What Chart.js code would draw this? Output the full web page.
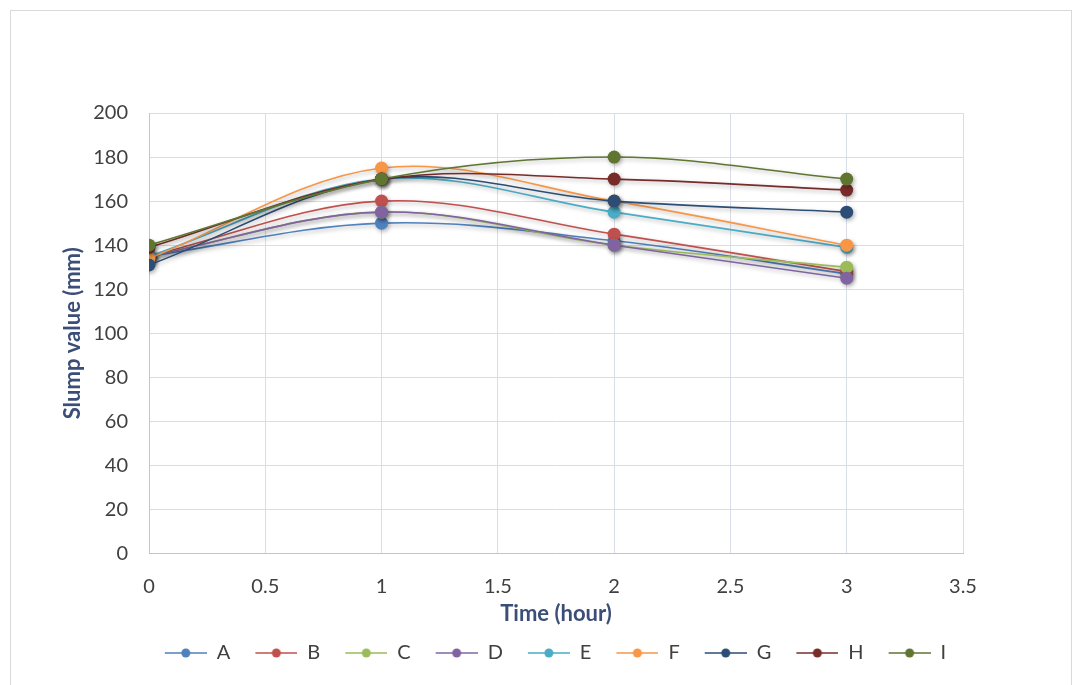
<!DOCTYPE html>
<html>
<head>
<meta charset="utf-8">
<script src="https://cdn.jsdelivr.net/npm/chart.js@4.4.1/dist/chart.umd.min.js"></script>
<style>
  body { margin: 0; background: #fff; }
  #frame { position: absolute; left: 10px; top: 10px; width: 1062px; height: 680px; border: 1px solid #d9d9d9; box-sizing: border-box; }
  #wrap { position: absolute; left: 0; top: 0; width: 1078px; height: 685px; }
</style>
</head>
<body>
<div id="frame"></div>
<div id="wrap"><canvas id="slumpChart"></canvas></div>
<script>
// Time (hour)
const times = [0, 1, 2, 3];
const seriesNames = ['A', 'B', 'C', 'D', 'E', 'F', 'G', 'H', 'I'];

// Slump value (mm) per mix
const slumpA = [135, 150, 142, 127];
const slumpB = [135, 160, 145, 128];
const slumpC = [135, 155, 140, 130];
const slumpD = [135, 155, 140, 125];
const slumpE = [135, 170, 155, 139];
const slumpF = [134, 175, 160, 140];
const slumpG = [131, 170, 160, 155];
const slumpH = [139, 170, 170, 165];
const slumpI = [140, 170, 180, 170];

const colors = ['#4F81BD', '#C0504D', '#9BBB59', '#8064A2', '#4BACC6', '#F79646', '#2C4D75', '#772C2A', '#5F7530'];
const allSeries = [slumpA, slumpB, slumpC, slumpD, slumpE, slumpF, slumpG, slumpH, slumpI];

const tickColor = '#404040';
const titleColor = '#3B4E78';
const gridColor = '#D9DEE6';
const fontFamily = 'Lato';

// legend symbol: blank lead-in, then a short line with a dot in the middle
const legendIcon = (color) => {
  const c = document.createElement('canvas');
  c.width = 57; c.height = 12;
  const g = c.getContext('2d');
  g.strokeStyle = color; g.lineWidth = 1.5;
  g.beginPath(); g.moveTo(15, 6); g.lineTo(57, 6); g.stroke();
  g.fillStyle = color;
  g.beginPath(); g.arc(36, 6, 4.5, 0, Math.PI * 2); g.fill();
  return c;
};

const datasets = seriesNames.map((name, i) => ({
  label: name,
  data: times.map((t, j) => ({ x: t, y: allSeries[i][j] })),
  borderColor: colors[i],
  backgroundColor: colors[i],
  borderWidth: 1.6,
  pointRadius: 6.5,
  pointHoverRadius: 6.5,
  pointBorderWidth: 0,
  tension: 0.35,
  fill: false,
  order: seriesNames.length - i   // later series drawn on top
}));

// soft shadow like the spreadsheet export
const shadowPlugin = {
  id: 'shadow',
  beforeDatasetsDraw(chart) {
    const ctx = chart.ctx;
    ctx.save();
    ctx.shadowColor = 'rgba(0,0,0,0.3)';
    ctx.shadowBlur = 4;
    ctx.shadowOffsetX = 1.5;
    ctx.shadowOffsetY = 2;
  },
  afterDatasetsDraw(chart) {
    chart.ctx.restore();
  }
};

// center the legend under the plot area instead of the whole canvas
const legendCenter = {
  id: 'legendCenter',
  afterLayout(chart) {
    const lg = chart.legend;
    const shift = (chart.chartArea.left + chart.chartArea.right) / 2 - (lg.left + lg.right) / 2 - 8;
    lg.left += shift;
    lg.right += shift;
  }
};

new Chart(document.getElementById('slumpChart'), {
  type: 'line',
  data: { datasets },
  plugins: [shadowPlugin, legendCenter],
  options: {
    responsive: true,
    maintainAspectRatio: false,
    animation: false,
    layout: { padding: { left: 60, top: 113, right: 115, bottom: 12 } },
    plugins: {
      tooltip: { enabled: false },
      legend: {
        position: 'bottom',
        labels: {
          usePointStyle: true,
          pointStyleWidth: 57,
          boxHeight: 12,
          padding: 10,
          color: tickColor,
          font: { family: fontFamily, size: 20 },
          generateLabels: (chart) => chart.data.datasets.map((ds, i) => ({
            text: ds.label,
            pointStyle: legendIcon(colors[i]),
            fillStyle: colors[i],
            strokeStyle: colors[i],
            fontColor: tickColor,
            lineWidth: 0,
            hidden: false,
            datasetIndex: i
          }))
        }
      }
    },
    scales: {
      x: {
        type: 'linear',
        min: 0,
        max: 3.5,
        ticks: { stepSize: 0.5, color: tickColor, font: { family: fontFamily, size: 20 }, padding: 0, callback: (v) => String(v) },
        grid: { color: gridColor, drawTicks: true, tickLength: 21, tickColor: 'rgba(0,0,0,0)' },
        border: { color: '#BFC6D2' },
        title: { display: true, text: 'Time (hour)', color: titleColor, font: { family: fontFamily, size: 22, weight: 'bold' }, padding: { top: 2, bottom: 6 } }
      },
      y: {
        min: 0,
        max: 200,
        ticks: { stepSize: 20, color: tickColor, font: { family: fontFamily, size: 20 }, padding: 21 },
        grid: { color: gridColor, drawTicks: false },
        border: { color: '#BFC6D2' },
        title: { display: true, text: 'Slump value (mm)', color: titleColor, font: { family: fontFamily, size: 22, weight: 'bold' }, padding: { top: 0, bottom: 10 } },
        afterFit: (scale) => { scale.width = 89; }
      }
    }
  }
});
</script>
</body>
</html>
